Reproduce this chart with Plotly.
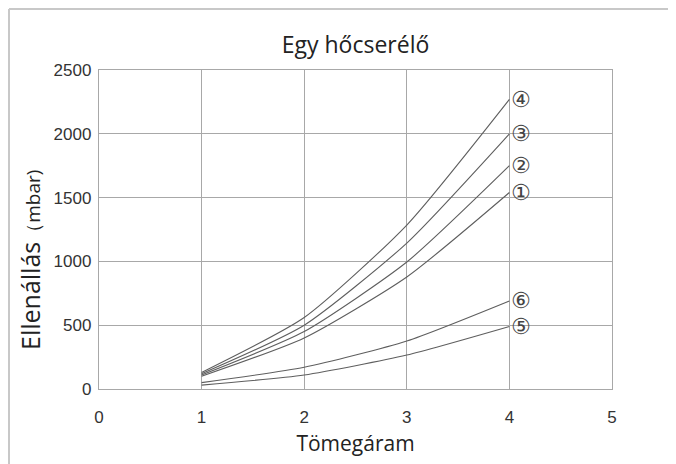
import plotly.graph_objects as go

x_vals = [1, 2, 3, 4]
series_names = ["①", "②", "③", "④", "⑤", "⑥"]
curve1 = [100, 400, 878, 1540]
curve2 = [110, 450, 995, 1750]
curve3 = [120, 500, 1144, 2000]
curve4 = [130, 560, 1285, 2270]
curve5 = [30, 110, 266, 490]
curve6 = [50, 170, 376, 690]
all_curves = [curve1, curve2, curve3, curve4, curve5, curve6]
x_ticks = [0, 1, 2, 3, 4, 5]
y_ticks = [0, 500, 1000, 1500, 2000, 2500]

# page body has an 8px margin; figure occupies page (8,8)-(676,464)
OFF = 8
W, H = 676 - OFF, 464 - OFF
L, T = 99 - OFF, 70 - OFF
R = W - (612 - OFF)
B = H - (389 - OFF)

fig = go.Figure()
for name, ys in zip(series_names, all_curves):
    fig.add_trace(go.Scatter(x=x_vals, y=ys, mode="lines", name=name,
                             line=dict(color="#5e5e5e", width=1.1, shape="spline", smoothing=0.6),
                             showlegend=False, hoverinfo="skip"))
    fig.add_annotation(x=4.11, y=ys[-1], text=name, showarrow=False, xref="x", yref="y",
                       font=dict(family="DejaVu Sans", size=22, color="#444"))

axis_common = dict(showgrid=True, gridcolor="#a8a8a8", gridwidth=1.3, showline=True,
                   linecolor="#a8a8a8", linewidth=1.3, mirror=True, zeroline=False,
                   ticks="", tickfont=dict(family="Liberation Sans", size=17, color="#333"))

fig.update_xaxes(range=[0, 5], tickvals=x_ticks, ticklabelstandoff=12,
                 title=dict(text="Tömegáram", font=dict(family="Open Sans", size=21, color="#222"), standoff=10),
                 **axis_common)
fig.update_yaxes(range=[0, 2500], tickvals=y_ticks, ticklabelstandoff=3,
                 **axis_common)

fig.update_layout(
    width=W, height=H,
    margin=dict(l=L, r=R, t=T, b=B, autoexpand=False),
    plot_bgcolor="white", paper_bgcolor="white",
    title=dict(text="Egy hőcserélő", x=(L + (W - R)) / 2 / W, xanchor="center",
               y=1 - (45 - OFF) / H, yanchor="middle",
               font=dict(family="Open Sans", size=23, color="#222")),
)

pw, ph = W - L - R, H - T - B
def px(xp):
    return (xp - OFF - L) / pw
def py(yp):
    return (H - B - (yp - OFF)) / ph

# y-axis title as rotated annotation
fig.add_annotation(xref="paper", yref="paper", x=px(30), y=py(260), showarrow=False,
                   textangle=-90, xanchor="center", yanchor="middle",
                   text="Ellenállás<span style='font-size:19px'>（mbar)</span>",
                   font=dict(family="Open Sans", size=25, color="#222"))

border = dict(color="#c8c8c8", width=2)
fig.add_shape(type="line", xref="paper", yref="paper", x0=px(9), x1=px(9), y0=py(464), y1=py(9), line=border, layer="below")
fig.add_shape(type="line", xref="paper", yref="paper", x0=px(9), x1=px(672), y0=py(9), y1=py(9), line=border, layer="below")
fig.add_shape(type="line", xref="paper", yref="paper", x0=px(672), x1=px(672), y0=py(464), y1=py(9), line=border, layer="below")

fig.write_html("out.html")
